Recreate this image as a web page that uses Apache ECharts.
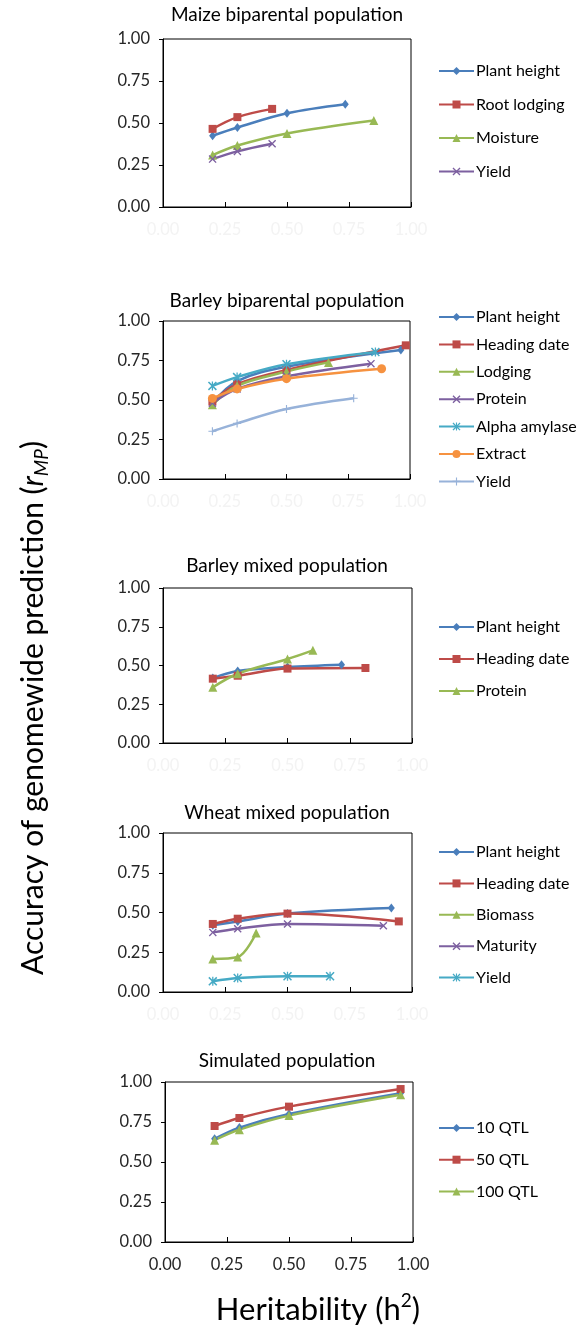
<!DOCTYPE html>
<html lang="en" style="background: #FFFFFF;height: 100%">
<head>
  <meta charset="utf-8" />
  <title>Accuracy of genomewide prediction</title>
  <script src="https://cdn.jsdelivr.net/npm/echarts@6/dist/echarts.min.js"></script>
</head>
<body style="margin: 0;height: 100%">
<div id="chart" style="width: 579px;height: 1331px"></div>
<script>
    // tick labels shared by every panel
    const tickLabels = ['0.00', '0.25', '0.50', '0.75', '1.00'];

    // Maize biparental population
    const maizeTraits = ['Plant height', 'Root lodging', 'Moisture', 'Yield'];
    const maizeH2 = [[0.2, 0.3, 0.5, 0.735], [0.2, 0.3, 0.44], [0.2, 0.3, 0.5, 0.85], [0.2, 0.3, 0.44]];
    const maizeAcc = [[0.424, 0.473, 0.558, 0.612], [0.465, 0.535, 0.584], [0.309, 0.366, 0.438, 0.515], [0.285, 0.331, 0.376]];

    // Barley biparental population
    const barleyBiTraits = ['Plant height', 'Heading date', 'Lodging', 'Protein', 'Alpha amylase', 'Extract', 'Yield'];
    const barleyBiH2 = [[0.2, 0.3, 0.5, 0.963], [0.2, 0.3, 0.5, 0.983], [0.2, 0.3, 0.5, 0.67], [0.2, 0.3, 0.5, 0.842],
        [0.2, 0.3, 0.5, 0.86], [0.2, 0.3, 0.5, 0.885], [0.2, 0.3, 0.5, 0.772]];
    const barleyBiAcc = [[0.48, 0.62, 0.71, 0.816], [0.49, 0.60, 0.69, 0.846], [0.47, 0.59, 0.68, 0.738], [0.48, 0.57, 0.65, 0.73],
        [0.589, 0.645, 0.726, 0.804], [0.51, 0.57, 0.635, 0.698], [0.302, 0.352, 0.443, 0.511]];

    // Barley mixed population
    const barleyMixTraits = ['Plant height', 'Heading date', 'Protein'];
    const barleyMixH2 = [[0.2, 0.3, 0.5, 0.717], [0.2, 0.3, 0.5, 0.813], [0.2, 0.3, 0.5, 0.602]];
    const barleyMixAcc = [[0.419, 0.465, 0.49, 0.505], [0.415, 0.434, 0.48, 0.484], [0.359, 0.447, 0.542, 0.598]];

    // Wheat mixed population
    const wheatTraits = ['Plant height', 'Heading date', 'Biomass', 'Maturity', 'Yield'];
    const wheatH2 = [[0.2, 0.3, 0.5, 0.917], [0.2, 0.3, 0.5, 0.947], [0.2, 0.3, 0.374], [0.2, 0.3, 0.5, 0.885], [0.2, 0.3, 0.5, 0.671]];
    const wheatAcc = [[0.42, 0.444, 0.493, 0.528], [0.428, 0.461, 0.493, 0.444], [0.208, 0.22, 0.371],
        [0.375, 0.398, 0.428, 0.417], [0.067, 0.088, 0.099, 0.099]];

    // Simulated population
    const simTraits = ['10 QTL', '50 QTL', '100 QTL'];
    const simH2 = [[0.2, 0.3, 0.5, 0.95], [0.2, 0.3, 0.5, 0.95], [0.2, 0.3, 0.5, 0.95]];
    const simAcc = [[0.645, 0.715, 0.80, 0.93], [0.725, 0.775, 0.846, 0.956], [0.636, 0.702, 0.79, 0.92]];

    // marker shapes (excel style)
    const X_MARK = 'path://M0,1.2 L1.2,0 L5,3.8 L8.8,0 L10,1.2 L6.2,5 L10,8.8 L8.8,10 L5,6.2 L1.2,10 L0,8.8 L3.8,5 Z';
    const STAR_MARK = X_MARK + ' M4.3,0 L5.7,0 L5.7,10 L4.3,10 Z';
    const PLUS_MARK = 'path://M4.3,0 L5.7,0 L5.7,4.3 L10,4.3 L10,5.7 L5.7,5.7 L5.7,10 L4.3,10 L4.3,5.7 L0,5.7 L0,4.3 L4.3,4.3 Z';

    const BLUE = '#4A7EBB', RED = '#BE4B48', GREEN = '#98B954', PURPLE = '#7D60A0',
        AQUA = '#46AAC5', ORANGE = '#F69240', PALE = '#97B2D9';
    const diamond = [BLUE, 'diamond', [7, 9]];
    const square = [RED, 'rect', 8];
    const triangle = [GREEN, 'triangle', 9];

    const panels = [
        {title: 'Maize biparental population', traits: maizeTraits, h2: maizeH2, acc: maizeAcc,
            marks: [diamond, square, triangle, [PURPLE, X_MARK, 8]],
            grid: [163, 39, 248, 168], titleY: 4, legendTop: 63, legendGap: 17.5, showX: false},
        {title: 'Barley biparental population', traits: barleyBiTraits, h2: barleyBiH2, acc: barleyBiAcc,
            marks: [diamond, square, [GREEN, 'triangle', 9], [PURPLE, X_MARK, 8], [AQUA, STAR_MARK, 9], [ORANGE, 'circle', 9], [PALE, PLUS_MARK, 8]],
            grid: [163, 321, 247, 158], titleY: 290, legendTop: 309, legendGap: 11.4, showX: false},
        {title: 'Barley mixed population', traits: barleyMixTraits, h2: barleyMixH2, acc: barleyMixAcc,
            marks: [diamond, square, triangle],
            grid: [163, 588, 249, 155], titleY: 555, legendTop: 619, legendGap: 16, showX: false},
        {title: 'Wheat mixed population', traits: wheatTraits, h2: wheatH2, acc: wheatAcc,
            marks: [diamond, square, triangle, [PURPLE, X_MARK, 8], [AQUA, STAR_MARK, 9]],
            grid: [163, 833, 249, 159], titleY: 802, legendTop: 844, legendGap: 15.4, showX: false},
        {title: 'Simulated population', traits: simTraits, h2: simH2, acc: simAcc,
            marks: [diamond, square, triangle],
            grid: [165, 1082, 248, 160], titleY: 1050, legendTop: 1120, legendGap: 15.7, showX: true}
    ];

    const FONT = 'Lato';
    const option = {
        animation: false,
        textStyle: {fontFamily: FONT},
        title: [], grid: [], xAxis: [], yAxis: [], legend: [], series: [],
        graphic: [
            {
                type: 'text', x: 33, y: 708, rotation: Math.PI / 2,
                style: {
                    text: '{a|Accuracy of genomewide prediction (}{i|r}{s|MP}{a|)}',
                    align: 'center', verticalAlign: 'middle',
                    rich: {
                        a: {fontSize: 30, lineHeight: 36, fontFamily: FONT, fill: '#000'},
                        i: {fontSize: 30, lineHeight: 36, fontFamily: FONT, fontStyle: 'italic', fill: '#000'},
                        s: {fontSize: 19, lineHeight: 19, fontFamily: FONT, fontStyle: 'italic', verticalAlign: 'bottom', fill: '#000'}
                    }
                }
            },
            {
                type: 'text', x: 318, y: 1310,
                style: {
                    text: '{a|Heritability (h}{p|2}{a|)}',
                    align: 'center', verticalAlign: 'middle',
                    rich: {
                        a: {fontSize: 31, lineHeight: 38, fontFamily: FONT, fill: '#000'},
                        p: {fontSize: 19, lineHeight: 19, fontFamily: FONT, verticalAlign: 'top', fill: '#000'}
                    }
                }
            }
        ]
    };

    panels.forEach(function (p, i) {
        option.title.push({
            text: p.title, left: 287, top: p.titleY, textAlign: 'center', padding: 0,
            textStyle: {fontSize: 19, lineHeight: 22, fontWeight: 'normal', color: '#000', fontFamily: FONT}
        });
        option.grid.push({
            left: p.grid[0], top: p.grid[1], width: p.grid[2], height: p.grid[3],
            show: true, borderColor: '#000', borderWidth: 1
        });
        option.xAxis.push({
            type: 'value', gridIndex: i, min: 0, max: 1, interval: 0.25,
            axisLine: {onZero: false, lineStyle: {color: '#000', width: 1}},
            axisTick: {inside: true, length: 5, lineStyle: {color: '#000'}},
            splitLine: {show: false},
            axisLabel: {
                margin: 14, fontSize: 16.5, fontFamily: FONT,
                color: p.showX ? '#262626' : '#f3f3f3',
                formatter: function (v) { return tickLabels[Math.round(v * 4)]; }
            }
        });
        option.yAxis.push({
            type: 'value', gridIndex: i, min: 0, max: 1, interval: 0.25,
            axisLine: {show: true, onZero: false, lineStyle: {color: '#000', width: 1}},
            axisTick: {show: true, length: 4, lineStyle: {color: '#000'}},
            splitLine: {show: false},
            axisLabel: {
                margin: 13, fontSize: 16.5, fontFamily: FONT, color: '#262626',
                formatter: function (v) { return tickLabels[Math.round(v * 4)]; }
            }
        });
        const names = p.traits.map(function (t) { return t + '|' + i; });
        option.legend.push({
            orient: 'vertical', left: 438, top: p.legendTop, padding: 0,
            itemWidth: 35, itemHeight: 10, itemGap: p.legendGap,
            selectedMode: false, data: names,
            formatter: function (n) { return n.split('|')[0]; },
            textStyle: {fontSize: 16, lineHeight: 16, color: '#000', fontFamily: FONT, padding: [0, 0, 0, -3]}
        });
        p.traits.forEach(function (t, k) {
            const m = p.marks[k];
            option.series.push({
                name: names[k], type: 'line', xAxisIndex: i, yAxisIndex: i,
                data: p.h2[k].map(function (x, j) { return [x, p.acc[k][j]]; }),
                smooth: 0.35, symbol: m[1], symbolSize: m[2],
                lineStyle: {color: m[0], width: 2.5},
                itemStyle: {color: m[0], borderWidth: 0}
            });
        });
    });

    const chart = echarts.init(document.getElementById('chart'));
    chart.setOption(option);
</script>
</body>
</html>
